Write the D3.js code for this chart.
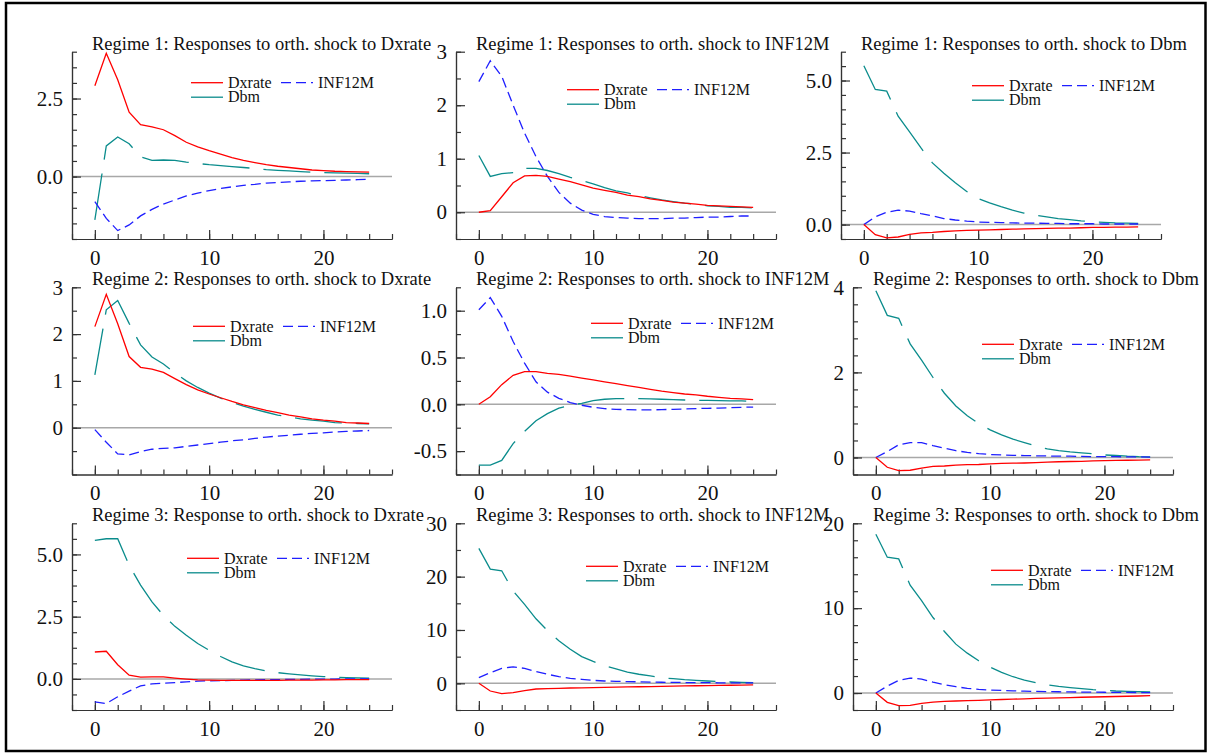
<!DOCTYPE html>
<html>
<head>
<meta charset="utf-8">
<script src="https://cdn.jsdelivr.net/npm/d3@7"></script>
<style>
  body { margin: 0; background: #fff; }
  svg { display: block; }
  svg text { font-family: "Liberation Serif", "Times New Roman", serif; }
</style>
</head>
<body>
<svg id="chart" width="1209" height="753"></svg>
<script>
// horizon (x axis)
var horizon = [0,1,2,3,4,5,6,7,8,9,10,11,12,13,14,15,16,17,18,19,20,21,22,23,24];

var titles = [
  "Regime 1: Responses to orth. shock to Dxrate",
  "Regime 1: Responses to orth. shock to INF12M",
  "Regime 1: Responses to orth. shock to Dbm",
  "Regime 2: Responses to orth. shock to Dxrate",
  "Regime 2: Responses to orth. shock to INF12M",
  "Regime 2: Responses to orth. shock to Dbm",
  "Regime 3: Response to orth. shock to Dxrate",
  "Regime 3: Responses to orth. shock to INF12M",
  "Regime 3: Responses to orth. shock to Dbm"
];
var seriesNames = ["Dxrate", "INF12M", "Dbm"];

// y axes: domain, minor step, labelled ticks
var yDomains = [[-2,4],[-0.5,3],[-0.5,6],[-1,3],[-0.75,1.25],[-0.4,4],[-1.25,6.25],[-5,30],[-2,20]];
var yMinorSteps = [0.5, 0.5, 0.5, 0.5, 0.25, 0.4, 0.625, 5, 2];
var yLabelTicks = [[0,2.5],[0,1,2,3],[0,2.5,5],[0,1,2,3],[-0.5,0,0.5,1],[0,2,4],[0,2.5,5],[0,10,20,30],[0,10,20]];
var yDecimals = [1,0,1,0,1,0,1,0,0];
var xLabelTicks = [0,10,20];

// Regime 1
var r1DxDxrate = [2.91,3.95,3.1,2.06,1.66,1.59,1.5,1.31,1.1,0.95,0.83,0.72,0.61,0.52,0.45,0.38,0.33,0.29,0.25,0.21,0.19,0.17,0.16,0.15,0.14];
var r1DxInf    = [-0.8,-1.34,-1.73,-1.55,-1.26,-1.05,-0.88,-0.75,-0.62,-0.53,-0.45,-0.38,-0.33,-0.28,-0.25,-0.21,-0.19,-0.17,-0.15,-0.14,-0.13,-0.12,-0.11,-0.1,-0.09];
var r1DxDbm    = [-1.39,0.98,1.27,1.05,0.63,0.52,0.53,0.52,0.46,0.42,0.38,0.35,0.32,0.29,0.26,0.22,0.2,0.18,0.16,0.14,0.13,0.12,0.11,0.1,0.09];

var r1InfDxrate = [0,0.03,0.29,0.55,0.68,0.69,0.67,0.62,0.57,0.51,0.45,0.41,0.37,0.32,0.29,0.25,0.22,0.19,0.17,0.15,0.13,0.12,0.11,0.1,0.09];
var r1InfInf    = [2.44,2.83,2.54,2.0,1.48,1.04,0.67,0.37,0.17,0.04,-0.04,-0.08,-0.1,-0.11,-0.12,-0.12,-0.12,-0.11,-0.11,-0.1,-0.09,-0.09,-0.08,-0.07,-0.07];
var r1InfDbm    = [1.06,0.67,0.72,0.74,0.82,0.82,0.78,0.72,0.65,0.59,0.53,0.46,0.4,0.36,0.31,0.27,0.23,0.2,0.17,0.15,0.12,0.11,0.09,0.09,0.08];

var r1DbmDxrate = [0,-0.35,-0.46,-0.43,-0.34,-0.29,-0.27,-0.24,-0.22,-0.2,-0.19,-0.18,-0.17,-0.16,-0.15,-0.14,-0.13,-0.125,-0.12,-0.11,-0.1,-0.1,-0.09,-0.09,-0.08];
var r1DbmInf    = [0,0.27,0.43,0.5,0.47,0.38,0.3,0.21,0.16,0.12,0.09,0.08,0.07,0.06,0.05,0.05,0.04,0.04,0.03,0.03,0.03,0.02,0.02,0.02,0.02];
var r1DbmDbm    = [5.51,4.69,4.63,3.76,3.22,2.66,2.14,1.78,1.45,1.15,0.9,0.75,0.62,0.5,0.4,0.33,0.27,0.21,0.17,0.13,0.1,0.08,0.06,0.05,0.04];

// Regime 2
var r2DxDxrate = [2.16,2.85,2.22,1.52,1.29,1.25,1.18,1.05,0.92,0.81,0.72,0.64,0.56,0.49,0.43,0.37,0.32,0.27,0.23,0.19,0.16,0.14,0.11,0.1,0.09];
var r2DxInf    = [-0.04,-0.31,-0.56,-0.58,-0.51,-0.46,-0.44,-0.43,-0.4,-0.37,-0.34,-0.31,-0.28,-0.26,-0.23,-0.2,-0.18,-0.16,-0.14,-0.12,-0.11,-0.09,-0.08,-0.07,-0.06];
var r2DxDbm    = [1.13,2.52,2.72,2.23,1.77,1.51,1.36,1.17,1.0,0.86,0.74,0.63,0.54,0.46,0.39,0.33,0.27,0.23,0.19,0.16,0.14,0.11,0.1,0.09,0.08];

var r2InfDxrate = [0,0.08,0.21,0.31,0.35,0.35,0.33,0.32,0.3,0.28,0.26,0.24,0.22,0.2,0.18,0.16,0.14,0.125,0.11,0.1,0.086,0.075,0.064,0.057,0.05];
var r2InfInf    = [1.01,1.14,0.94,0.67,0.44,0.24,0.13,0.064,0.018,-0.01,-0.032,-0.046,-0.054,-0.057,-0.06,-0.06,-0.057,-0.054,-0.05,-0.046,-0.043,-0.04,-0.036,-0.032,-0.03];
var r2InfDbm    = [-0.65,-0.65,-0.6,-0.42,-0.29,-0.175,-0.1,-0.04,-0.01,0.01,0.04,0.054,0.06,0.06,0.06,0.057,0.054,0.05,0.046,0.043,0.043,0.04,0.036,0.036,0.03];

var r2DbmDxrate = [0,-0.23,-0.31,-0.3,-0.25,-0.21,-0.2,-0.18,-0.17,-0.165,-0.15,-0.14,-0.135,-0.13,-0.12,-0.11,-0.1,-0.095,-0.09,-0.08,-0.075,-0.07,-0.065,-0.06,-0.055];
var r2DbmInf    = [0,0.14,0.3,0.35,0.35,0.28,0.22,0.16,0.12,0.09,0.07,0.06,0.05,0.045,0.04,0.035,0.03,0.03,0.025,0.02,0.02,0.02,0.015,0.015,0.01];
var r2DbmDbm    = [3.92,3.34,3.27,2.67,2.29,1.88,1.51,1.21,0.98,0.8,0.65,0.53,0.43,0.35,0.27,0.2,0.16,0.13,0.11,0.086,0.06,0.047,0.03,0.02,0.016];

// Regime 3
var r3DxDxrate = [1.08,1.11,0.57,0.15,0.07,0.08,0.08,0.03,-0.01,-0.04,-0.05,-0.06,-0.06,-0.06,-0.06,-0.06,-0.06,-0.05,-0.05,-0.05,-0.04,-0.04,-0.03,-0.03,-0.03];
var r3DxInf    = [-0.92,-0.99,-0.72,-0.49,-0.28,-0.2,-0.17,-0.15,-0.12,-0.09,-0.08,-0.07,-0.06,-0.05,-0.04,-0.03,-0.03,-0.02,-0.02,-0.01,-0.01,-0.01,0,0,0];
var r3DxDbm    = [5.56,5.63,5.63,4.56,3.77,3.09,2.55,2.11,1.75,1.42,1.15,0.9,0.68,0.52,0.41,0.32,0.25,0.2,0.16,0.12,0.09,0.07,0.05,0.04,0.03];

var r3InfDxrate = [0,-1.44,-1.94,-1.75,-1.37,-1.06,-1.0,-0.94,-0.88,-0.84,-0.8,-0.76,-0.72,-0.68,-0.64,-0.6,-0.56,-0.52,-0.48,-0.45,-0.42,-0.39,-0.36,-0.33,-0.3];
var r3InfInf    = [1.06,2.0,2.8,3.1,2.8,2.2,1.7,1.25,0.94,0.75,0.56,0.44,0.38,0.32,0.28,0.24,0.2,0.18,0.15,0.13,0.12,0.1,0.09,0.08,0.07];
var r3InfDbm    = [25.3,21.4,21.1,17.3,14.8,12.1,9.9,8.0,6.4,5.0,4.1,3.3,2.7,2.1,1.7,1.4,1.06,0.87,0.69,0.56,0.44,0.31,0.25,0.19,0.15];

var r3DbmDxrate = [0,-1.1,-1.49,-1.45,-1.22,-1.06,-0.98,-0.94,-0.9,-0.86,-0.8,-0.76,-0.72,-0.68,-0.64,-0.6,-0.57,-0.53,-0.5,-0.47,-0.44,-0.41,-0.38,-0.35,-0.3];
var r3DbmInf    = [0,0.82,1.49,1.76,1.65,1.29,0.98,0.75,0.55,0.43,0.35,0.3,0.26,0.22,0.19,0.17,0.15,0.13,0.11,0.1,0.09,0.08,0.07,0.06,0.05];
var r3DbmDbm    = [18.7,16.0,15.8,12.7,10.9,8.9,7.25,5.76,4.7,3.8,3.06,2.43,1.92,1.53,1.22,0.98,0.78,0.63,0.51,0.39,0.31,0.24,0.2,0.16,0.12];

var panelSeries = [
  [r1DxDxrate, r1DxInf, r1DxDbm],
  [r1InfDxrate, r1InfInf, r1InfDbm],
  [r1DbmDxrate, r1DbmInf, r1DbmDbm],
  [r2DxDxrate, r2DxInf, r2DxDbm],
  [r2InfDxrate, r2InfInf, r2InfDbm],
  [r2DbmDxrate, r2DbmInf, r2DbmDbm],
  [r3DxDxrate, r3DxInf, r3DxDbm],
  [r3InfDxrate, r3InfInf, r3InfDbm],
  [r3DbmDxrate, r3DbmInf, r3DbmDbm]
];

// layout (pixels)
var plotW = 320;
var rowTop = [51.7, 287.3, 523.3], rowBottom = [239, 474.5, 710];
var colLeft = [[72, 456, 841], [72, 456, 853], [72, 456, 853]];
// legend offsets from the plot's top-left corner
var legendPos = [[119,31],[111,38],[131,34],[121,39],[135,36],[129,57],[115,35],[130,43],[138,47]];

var colors = ["#ff0000", "#1f1fff", "#0a8c8c"];
var dashes = [null, "10,5", "47,14"];
var serif = '"Liberation Serif", "Times New Roman", serif';

var svg = d3.select("#chart");

// outer frame
svg.append("rect")
  .attr("x", 6).attr("y", 3)
  .attr("width", 1199.5).attr("height", 748)
  .attr("fill", "none").attr("stroke", "#000").attr("stroke-width", 2.5);

function fmt(dec){ return function(d){ return d.toFixed(dec); }; }

panelSeries.forEach(function(series, p){
  var row = Math.floor(p/3), col = p%3;
  var left = colLeft[row][col], top = rowTop[row], bottom = rowBottom[row];
  var x = d3.scaleLinear().domain([-2, 26]).range([left, left + plotW]);
  var y = d3.scaleLinear().domain(yDomains[p]).range([bottom, top]);
  var g = svg.append("g").attr("class", "panel");

  // title
  g.append("text")
    .attr("x", left + 20).attr("y", top - 2)
    .attr("font-family", serif)
    .attr("font-size", 18.5).attr("fill", "#111")
    .text(titles[p]);

  // zero line
  g.append("line")
    .attr("x1", x(-2)).attr("x2", x(26))
    .attr("y1", y(0)).attr("y2", y(0))
    .attr("stroke", "#a8a8a8").attr("stroke-width", 1.5);

  // minor ticks
  var xMinor = d3.range(-2, 26.01, 2);
  var yMinor = d3.range(yDomains[p][0], yDomains[p][1] + 1e-6, yMinorSteps[p]);
  g.append("g").attr("transform", "translate(0," + bottom + ")")
    .call(d3.axisBottom(x).tickValues(xMinor).tickSize(-5).tickSizeOuter(0).tickFormat(""));
  g.append("g").attr("transform", "translate(" + left + ",0)")
    .call(d3.axisLeft(y).tickValues(yMinor).tickSize(-5).tickSizeOuter(0).tickFormat(""));

  // labelled ticks
  var xa = g.append("g").attr("transform", "translate(0," + bottom + ")")
    .call(d3.axisBottom(x).tickValues(xLabelTicks).tickSize(-9).tickPadding(11).tickSizeOuter(0));
  var ya = g.append("g").attr("transform", "translate(" + left + ",0)")
    .call(d3.axisLeft(y).tickValues(yLabelTicks[p]).tickSize(-9).tickPadding(9).tickSizeOuter(0)
      .tickFormat(fmt(yDecimals[p])));
  g.selectAll(".domain, .tick line").attr("stroke", "#333").attr("stroke-width", 1.2);
  [xa, ya].forEach(function(a){
    a.attr("font-family", serif).attr("font-size", 21);
    a.selectAll("text").attr("fill", "#111").attr("font-family", serif);
  });

  // series
  var line = d3.line().x(function(d, i){ return x(horizon[i]); }).y(function(d){ return y(d); });
  [2, 1, 0].forEach(function(s){
    g.append("path").datum(series[s])
      .attr("d", line)
      .attr("fill", "none")
      .attr("stroke", colors[s])
      .attr("stroke-width", 1.3)
      .attr("stroke-dasharray", dashes[s]);
  });

  // legend
  var lx = left + legendPos[p][0], ly = top + legendPos[p][1];
  var items = [
    {s: 0, x: lx, y: ly},
    {s: 1, x: lx + 90, y: ly},
    {s: 2, x: lx, y: ly + 14.5}
  ];
  var lg = g.append("g").attr("class", "legend");
  items.forEach(function(it){
    lg.append("line")
      .attr("x1", it.x).attr("x2", it.x + 32)
      .attr("y1", it.y).attr("y2", it.y)
      .attr("stroke", colors[it.s]).attr("stroke-width", 1.3)
      .attr("stroke-dasharray", it.s == 1 ? dashes[1] : null);
    lg.append("text")
      .attr("x", it.x + 37).attr("y", it.y).attr("dy", "0.33em")
      .attr("font-family", serif)
      .attr("font-size", 16).attr("fill", "#111")
      .text(seriesNames[it.s]);
  });
});
</script>
</body>
</html>
